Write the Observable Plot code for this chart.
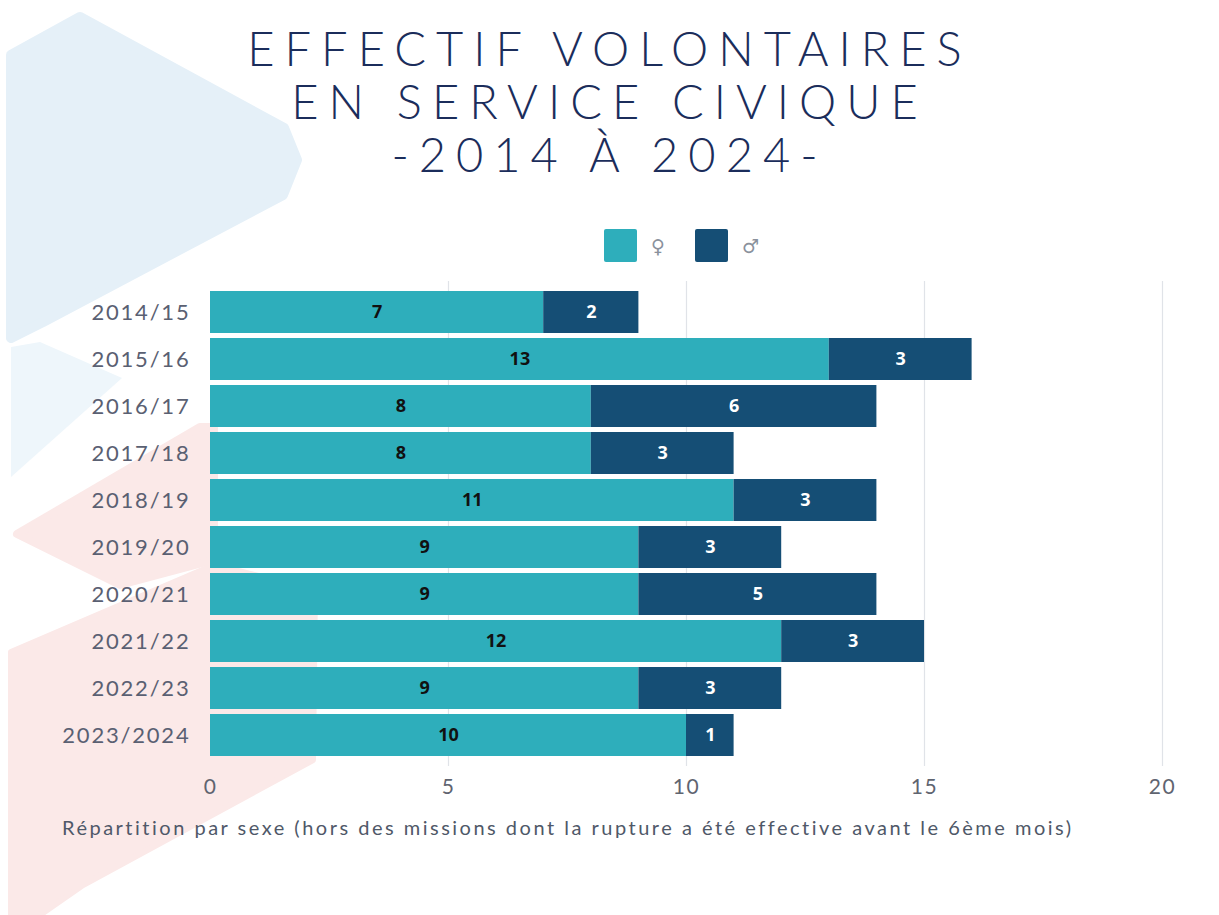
<!DOCTYPE html>
<html>
<head>
<meta charset="utf-8">
<script src="https://cdn.jsdelivr.net/npm/d3@7"></script>
<script src="https://cdn.jsdelivr.net/npm/@observablehq/plot@0.6"></script>
<style>
  html, body { margin: 0; padding: 0; background: #ffffff; }
  #wrap { position: relative; width: 1219px; height: 915px; overflow: hidden; font-family: Lato, "Open Sans", sans-serif; }
  #bg { position: absolute; left: 0; top: 0; }
  #title { position: absolute; left: 0; top: 22px; width: 1219px; text-align: center; color: #1b2d5b;
           font-family: Lato, sans-serif; font-size: 47px; line-height: 53px; letter-spacing: 10px; font-weight: 300; }
  #legend { position: absolute; top: 229px; left: 604px; display: flex; align-items: center;
            font-family: "DejaVu Sans", sans-serif; font-size: 19px; color: #8a919c; }
  .sw { width: 33px; height: 33px; border-radius: 2px; display: inline-block; }
  #chart { position: absolute; left: 0; top: 270px; }
  #chart g[aria-label="y-axis tick label"] text { letter-spacing: 1.8px; }
  #chart g[aria-label="x-axis tick label"] text { letter-spacing: 1.5px; }
  #caption { position: absolute; left: 62px; top: 815px; font-size: 20px; color: #4f5868; letter-spacing: 2.5px; }
</style>
</head>
<body>
<div id="wrap">
  <svg id="bg" width="1219" height="915" aria-hidden="true">
    <g stroke-linejoin="round">
      <polygon points="11,55 80,17 284,128 297,160 283,195 43,322 11,338" fill="#e5f0f8" stroke="#e5f0f8" stroke-width="10"/>
      <polygon points="11,347 40,342 122,378 11,477" fill="#eef6fb"/>
      <polygon points="17,534 200,427 214,427 214,560 120,585" fill="#fbe9e8" stroke="#fbe9e8" stroke-width="8"/>
      <polygon points="11,652 214,565 315,590 313,760 83,885 40,915 11,915" fill="#fbe9e8" stroke="#fbe9e8" stroke-width="6"/>
    </g>
  </svg>
  <div id="title">EFFECTIF VOLONTAIRES<br>EN SERVICE CIVIQUE<br>-2014 À 2024-</div>
  <div id="legend"></div>
  <div id="chart"></div>
  <div id="caption"></div>
</div>
<script>
const years = ["2014/15","2015/16","2016/17","2017/18","2018/19","2019/20","2020/21","2021/22","2022/23","2023/2024"];
const femmes = [7,13,8,8,11,9,9,12,9,10];
const hommes = [2,3,6,3,3,3,5,3,3,1];
const sexes = ["♀","♂"];
const colors = ["#2eaebb","#154e75"];
const labelColors = ["#111111","#ffffff"];
const xTicks = [0,5,10,15,20];
const captionText = "Répartition par sexe (hors des missions dont la rupture a été effective avant le 6ème mois)";

document.getElementById("caption").textContent = captionText;

const legend = document.getElementById("legend");
sexes.forEach((s, i) => {
  const sw = document.createElement("span");
  sw.className = "sw";
  sw.style.background = colors[i];
  const lab = document.createElement("span");
  lab.textContent = s;
  lab.style.margin = i === 0 ? "0 30px 0 14px" : "0 0 0 14px";
  legend.appendChild(sw);
  legend.appendChild(lab);
});

const data = [];
years.forEach((y, i) => {
  data.push({year: y, sexe: sexes[0], value: femmes[i]});
  data.push({year: y, sexe: sexes[1], value: hommes[i]});
});

const chart = Plot.plot({
  width: 1219,
  height: 536,
  marginLeft: 210,
  marginRight: 57,
  marginTop: 11,
  marginBottom: 40,
  style: {fontFamily: "Lato, 'Open Sans', sans-serif", background: "transparent"},
  x: {domain: [0, 20], ticks: xTicks, label: null, grid: false},
  y: {domain: years, label: null, padding: 0.11},
  color: {domain: sexes, range: colors},
  marks: [
    Plot.ruleX(xTicks.slice(1), {stroke: "#e0e3e8", strokeWidth: 1.2}),
    Plot.barX(data, Plot.stackX({x: "value", y: "year", fill: "sexe", order: sexes})),
    Plot.text(data, Plot.stackX({
      x: "value", y: "year", order: sexes, text: d => String(d.value),
      fill: d => labelColors[sexes.indexOf(d.sexe)],
      fontWeight: "bold", fontSize: 18, fontFamily: "'Open Sans', sans-serif"
    })),
    Plot.axisX({ticks: xTicks, tickSize: 0, tickPadding: 13, fontSize: 21, color: "#5f6470", label: null}),
    Plot.axisY({tickSize: 0, tickPadding: 20, fontSize: 22, color: "#5a6072", label: null})
  ]
});
document.getElementById("chart").appendChild(chart);
</script>
</body>
</html>
